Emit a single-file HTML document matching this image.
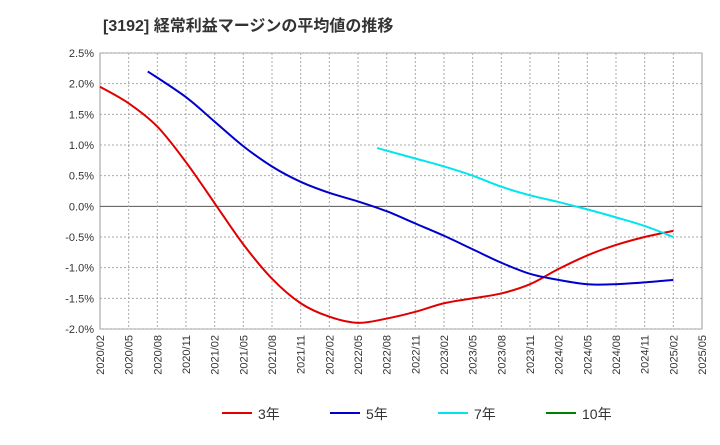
<!DOCTYPE html>
<html><head><meta charset="utf-8"><style>
body{margin:0;background:#fff;font-family:"Liberation Sans","Noto Sans CJK JP",sans-serif;}
</style></head><body>
<svg id="c" width="720" height="440" xmlns="http://www.w3.org/2000/svg" font-family="Liberation Sans, Noto Sans CJK JP, sans-serif">
<text x="103" y="31" font-size="16" font-weight="bold" fill="#333">[3192]  経常利益マージンの平均値の推移</text>
</svg>
<script>
const xLabels=["2020/02","2020/05","2020/08","2020/11","2021/02","2021/05","2021/08","2021/11","2022/02","2022/05","2022/08","2022/11","2023/02","2023/05","2023/08","2023/11","2024/02","2024/05","2024/08","2024/11","2025/02","2025/05"];
const yTicks=[2.5,2.0,1.5,1.0,0.5,0.0,-0.5,-1.0,-1.5,-2.0];
const s3x=[0,3,6,9,12,15,18,21,24,27,30,33,36,39,42,45,48,51,54,57,60];
const s3=[1.95,1.68,1.3,0.72,0.05,-0.62,-1.18,-1.58,-1.8,-1.9,-1.83,-1.72,-1.58,-1.5,-1.42,-1.27,-1.02,-0.8,-0.63,-0.5,-0.4];
const s5x=[5,9,12,15,18,21,24,27,30,33,36,39,42,45,48,51,54,57,60];
const s5=[2.2,1.78,1.38,0.98,0.65,0.4,0.22,0.08,-0.08,-0.28,-0.48,-0.7,-0.92,-1.1,-1.2,-1.27,-1.27,-1.24,-1.2];
const s7x=[29,33,36,39,42,45,48,51,54,57,60];
const s7=[0.95,0.78,0.65,0.5,0.32,0.18,0.07,-0.05,-0.18,-0.32,-0.5];
const L=100,R=702,T=53,B=329;
const xs=m=>L+(R-L)*m/63;
const ys=v=>T+(B-T)*(2.5-v)/4.5;
const svg=document.getElementById('c');
const NS='http://www.w3.org/2000/svg';
function mk(t,a,p){const e=document.createElementNS(NS,t);for(const k in a)e.setAttribute(k,a[k]);(p||svg).appendChild(e);return e;}
const bg=mk('rect',{x:L,y:T,width:R-L,height:B-T,fill:'#fff',stroke:'#999'});


yTicks.forEach(v=>{
 const y=ys(v);
 const g=mk('line',{x1:L,x2:R,y1:y,y2:y,stroke:v===0?'#555':'#aaa','stroke-dasharray':v===0?'':'2,2'});
 
 
 const t=mk('text',{x:L-6,y:y+4,'text-anchor':'end','font-size':11,fill:'#333'});
 t.textContent=v.toFixed(1)+'%';
 
 
});
xLabels.forEach((l,i)=>{
 const x=xs(i*3);
 if(i>0&&i<xLabels.length-1){const g=mk('line',{x1:x,x2:x,y1:T,y2:B,stroke:'#aaa','stroke-dasharray':'2,2'});
 
 }
 const t=mk('text',{x:0,y:0,'text-anchor':'end','font-size':11,fill:'#333',transform:`translate(${x+4},${B+6}) rotate(-90)`});
 t.textContent=l;
 
 
});
function path(xa,va){
 const p=xa.map((m,i)=>[xs(m),ys(va[i])]);
 let d=`M${p[0][0]},${p[0][1]}`;
 for(let i=0;i<p.length-1;i++){
  const p0=p[i-1]||p[i],p1=p[i],p2=p[i+1],p3=p[i+2]||p2;
  d+=` C${p1[0]+(p2[0]-p0[0])/6},${p1[1]+(p2[1]-p0[1])/6} ${p2[0]-(p3[0]-p1[0])/6},${p2[1]-(p3[1]-p1[1])/6} ${p2[0]},${p2[1]}`;
 }
 return d;
}
[[s3x,s3,'#e00000','line-3yr'],[s5x,s5,'#0000cc','line-5yr'],[s7x,s7,'#00e5ee','line-7yr']].forEach(s=>{
 const e=mk('path',{d:path(s[0],s[1]),fill:'none',stroke:s[2],'stroke-width':2});
 
 
});
[['3年','#e00000',222],['5年','#0000cc',330],['7年','#00e5ee',438],['10年','#008000',546]].forEach(l=>{
 const g=mk('g',{});
 
 
 mk('line',{x1:l[2],x2:l[2]+30,y1:413,y2:413,stroke:l[1],'stroke-width':2},g);
 const t=mk('text',{x:l[2]+36,y:419,'font-size':14,fill:'#333'},g);
 t.textContent=l[0];
});
</script>
</body></html>
